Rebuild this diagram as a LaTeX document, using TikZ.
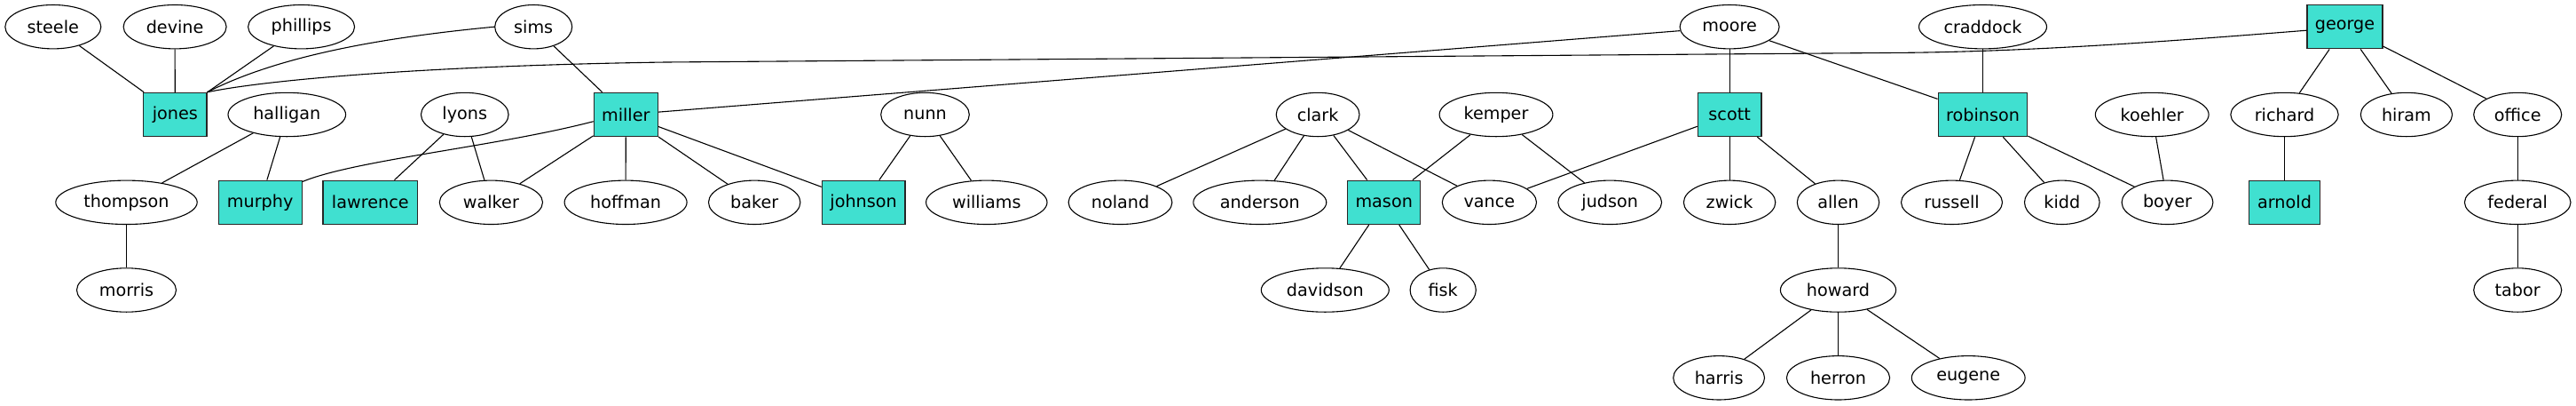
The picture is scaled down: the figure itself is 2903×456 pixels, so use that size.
\documentclass[tikz,border=0pt]{standalone}
\usepackage{fontspec}
\setmainfont{DejaVu Sans}
\usetikzlibrary{shapes.geometric}
\definecolor{turq}{HTML}{40E0D0}
\begin{document}
\begin{tikzpicture}[x=1pt,y=-1pt,
  every node/.style={font=\fontsize{19.2}{23}\selectfont, text=black},
  ell/.style={ellipse, draw=black, line width=1.1pt, fill=white, minimum height=49.4pt, minimum width=#1pt, inner sep=0pt},
  bx/.style={rectangle, draw=black!85, line width=1.1pt, fill=turq, minimum height=49.4pt, minimum width=#1pt, inner sep=0pt},
  edge/.style={draw=black, line width=1.1pt}]
\useasboundingbox[fill=white] (0,0) rectangle (2903,456);
% row 1
\node[ell=108] (steele) at (59.8,30.2) {steele};
\node[ell=116] (devine) at (197.1,30.2) {devine};
\node[ell=120] (phillips) at (339.6,30.2) {phillips};
\node[ell=87] (sims) at (601.2,30.2) {sims};
\node[ell=112] (moore) at (1949.1,30.2) {moore};
\node[ell=144] (craddock) at (2234.5,30.2) {craddock};
\node[bx=85] (george) at (2642.5,30.2) {george};
% row 2
\node[bx=71.3] (jones) at (197.3,129) {jones};
\node[ell=132.6] (halligan) at (323.3,129) {halligan};
\node[ell=98.6] (lyons) at (523.8,129) {lyons};
\node[bx=72.2] (miller) at (705.3,129) {miller};
\node[ell=99.6] (nunn) at (1042.5,129) {nunn};
\node[ell=93.8] (clark) at (1485.1,129) {clark};
\node[ell=127.8] (kemper) at (1686,129) {kemper};
\node[bx=71.7] (scott) at (1949.1,129) {scott};
\node[bx=100.8] (robinson) at (2234.5,129) {robinson};
\node[ell=127.8] (koehler) at (2425.2,129) {koehler};
\node[ell=121.4] (richard) at (2574.5,129) {richard};
\node[ell=103.2] (hiram) at (2711.9,129) {hiram};
\node[ell=99] (office) at (2837.2,129) {office};
% row 3
\node[ell=159.4] (thompson) at (142.5,227.8) {thompson};
\node[bx=93.8] (murphy) at (293.2,227.8) {murphy};
\node[bx=106.7] (lawrence) at (417.3,227.8) {lawrence};
\node[ell=116.2] (walker) at (553.4,227.8) {walker};
\node[ell=138] (hoffman) at (705.1,227.8) {hoffman};
\node[ell=103.4] (baker) at (850.2,227.8) {baker};
\node[bx=93.8] (johnson) at (973.1,227.8) {johnson};
\node[ell=136.4] (williams) at (1111.8,227.8) {williams};
\node[ell=116.8] (noland) at (1262.5,227.8) {noland};
\node[ell=150] (anderson) at (1419.8,227.8) {anderson};
\node[bx=82.3] (mason) at (1559.7,227.8) {mason};
\node[ell=106.2] (vance) at (1678.4,227.8) {vance};
\node[ell=116.8] (judson) at (1814.2,227.8) {judson};
\node[ell=103.4] (zwick) at (1949.1,227.8) {zwick};
\node[ell=92.4] (allen) at (2071.5,227.8) {allen};
\node[ell=114] (russell) at (2199.5,227.8) {russell};
\node[ell=84.6] (kidd) at (2323.8,227.8) {kidd};
\node[ell=102.8] (boyer) at (2442.5,227.8) {boyer};
\node[bx=79.7] (arnold) at (2574.5,227.8) {arnold};
\node[ell=119.6] (federal) at (2837.2,227.8) {federal};
% row 4
\node[ell=112] (morris) at (142.5,326.5) {morris};
\node[ell=144] (davidson) at (1493.3,326.5) {davidson};
\node[ell=74.2] (fisk) at (1626.2,326.5) {fisk};
\node[ell=130.2] (howard) at (2071.5,326.5) {howard};
\node[ell=99] (tabor) at (2837.2,326.5) {tabor};
% row 5
\node[ell=102.8] (harris) at (1937.1,425.3) {harris};
\node[ell=116.2] (herron) at (2071.5,425.3) {herron};
\node[ell=127.8] (eugene) at (2218.2,425.3) {eugene};
% edges
\draw[edge] (steele) -- (jones);
\draw[edge] (devine) -- (jones);
\draw[edge] (phillips) -- (jones);
\draw[edge] (sims.west) .. controls (400,45) and (300,70) .. (jones.north east);
\draw[edge] (jones.north east) .. controls (300,90) and (480,74) .. (750,70) -- (2150,59.3) .. controls (2300,57.5) and (2450,46) .. ([yshift=-4pt]george.west);
\draw[edge] (sims) -- (miller);
\draw[edge] (halligan) -- (thompson);
\draw[edge] (halligan) -- (murphy);
\draw[edge] (lyons) -- (lawrence);
\draw[edge] (lyons) -- (walker);
\draw[edge] ([yshift=-7.7pt]miller.west) .. controls (560,165) and (400,180) .. ([yshift=-2pt]murphy.north east);
\draw[edge] (miller) -- (walker);
\draw[edge] (miller) -- (hoffman);
\draw[edge] (miller) -- (baker);
\draw[edge] (miller) -- (johnson);
\draw[edge] (moore) -- (miller);
\draw[edge] (thompson) -- (morris);
\draw[edge] (nunn) -- (johnson);
\draw[edge] (nunn) -- (williams);
\draw[edge] (clark) -- (noland);
\draw[edge] (clark) -- (anderson);
\draw[edge] (clark) -- (mason);
\draw[edge] (clark) -- (vance);
\draw[edge] (kemper) -- (mason);
\draw[edge] (kemper) -- (judson);
\draw[edge] (moore) -- (scott);
\draw[edge] (moore) -- (robinson);
\draw[edge] (scott) -- (vance);
\draw[edge] (scott) -- (zwick);
\draw[edge] (scott) -- (allen);
\draw[edge] (mason) -- (davidson);
\draw[edge] (mason) -- (fisk);
\draw[edge] (allen) -- (howard);
\draw[edge] (howard) -- (harris);
\draw[edge] (howard) -- (herron);
\draw[edge] (howard) -- (eugene);
\draw[edge] (craddock) -- (robinson);
\draw[edge] (robinson) -- (russell);
\draw[edge] (robinson) -- (kidd);
\draw[edge] (robinson) -- (boyer);
\draw[edge] (koehler) -- (boyer);
\draw[edge] (george) -- (richard);
\draw[edge] (george) -- (hiram);
\draw[edge] (george) -- (office);
\draw[edge] (richard) -- (arnold);
\draw[edge] (office) -- (federal);
\draw[edge] (federal) -- (tabor);
\end{tikzpicture}
\end{document}
